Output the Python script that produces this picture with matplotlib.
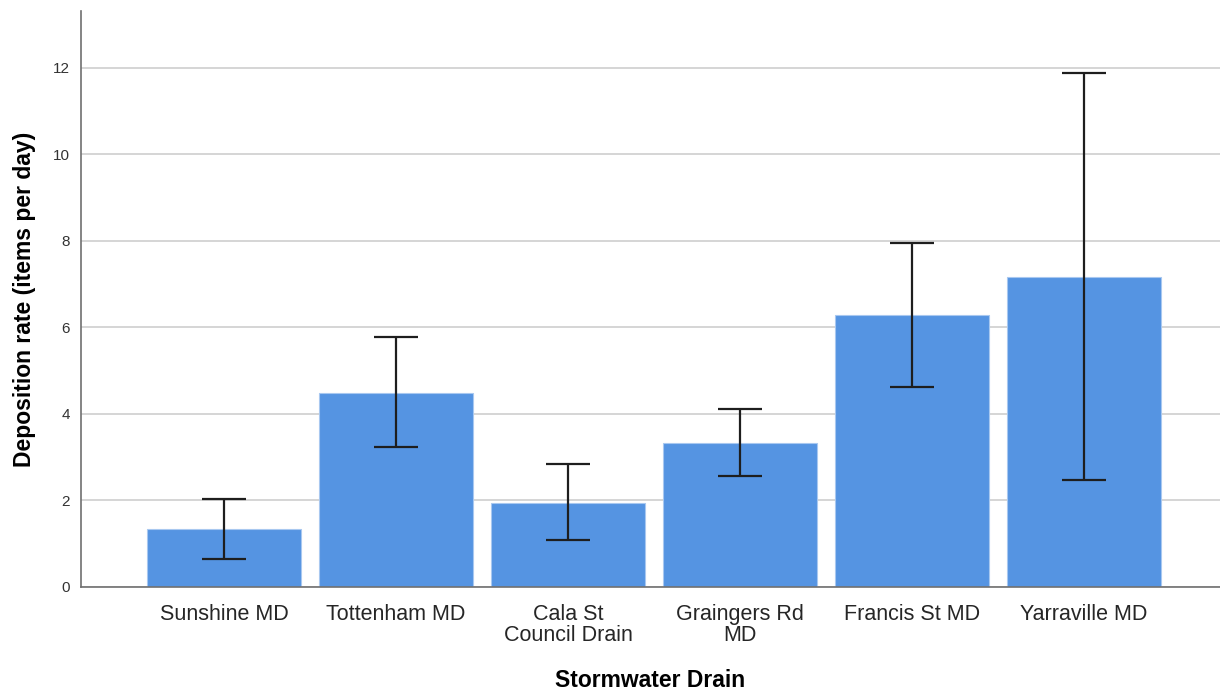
import matplotlib
matplotlib.use("Agg")
import matplotlib.pyplot as plt
import numpy as np

categories = ["Sunshine MD", "Tottenham MD", "Cala St\nCouncil Drain", "Graingers Rd\nMD",
              "Francis St MD", "Yarraville MD"]
means = [1.33, 4.49, 1.94, 3.33, 6.29, 7.17]
err_low = [0.64, 3.24, 1.09, 2.57, 4.62, 2.47]
err_high = [2.04, 5.78, 2.84, 4.12, 7.95, 11.88]
yticks = [0, 2, 4, 6, 8, 10, 12]

plt.rcParams['font.family'] = ['Liberation Sans', 'DejaVu Sans']

fig = plt.figure(figsize=(12.2, 6.92), dpi=100)
ax = fig.add_axes([81/1220, (692-587)/692, (1220-81)/1220, (587-11)/692])

x = np.arange(len(categories))
means_a = np.array(means)
yerr = np.vstack([means_a - np.array(err_low), np.array(err_high) - means_a])

ax.bar(x, means, width=0.895, color='#5594e2', edgecolor='#a8c8f0', linewidth=0.8, zorder=2)
ax.errorbar(x, means, yerr=yerr, fmt='none', ecolor='#1e1e1e', elinewidth=1.6,
            capsize=15.5, capthick=1.6, zorder=3)

ax.set_xlim(-0.831, 5.79)
ax.set_ylim(0, 13.31)
ax.set_yticks(yticks)
ax.set_yticklabels([str(v) for v in yticks])
ax.set_xticks(x)
ax.set_xticklabels(categories, linespacing=1.0)
ax.tick_params(axis='x', length=0, pad=12, labelsize=15.5, colors='#262626')
ax.tick_params(axis='y', length=0, pad=8, labelsize=11, colors='#333333')

ax.yaxis.grid(True, color='#d2d2d2', linewidth=1.3, zorder=0)
ax.set_axisbelow(True)
for s in ['top', 'right']:
    ax.spines[s].set_visible(False)
for s in ['left', 'bottom']:
    ax.spines[s].set_color('#707070')
    ax.spines[s].set_linewidth(1.2)

ax.set_ylabel("Deposition rate (items per day)", fontsize=16.5, fontweight='bold', labelpad=12)
ax.set_xlabel("Stormwater Drain", fontsize=16.5, fontweight='bold', labelpad=17)

fig.savefig("out.png", dpi=100)
